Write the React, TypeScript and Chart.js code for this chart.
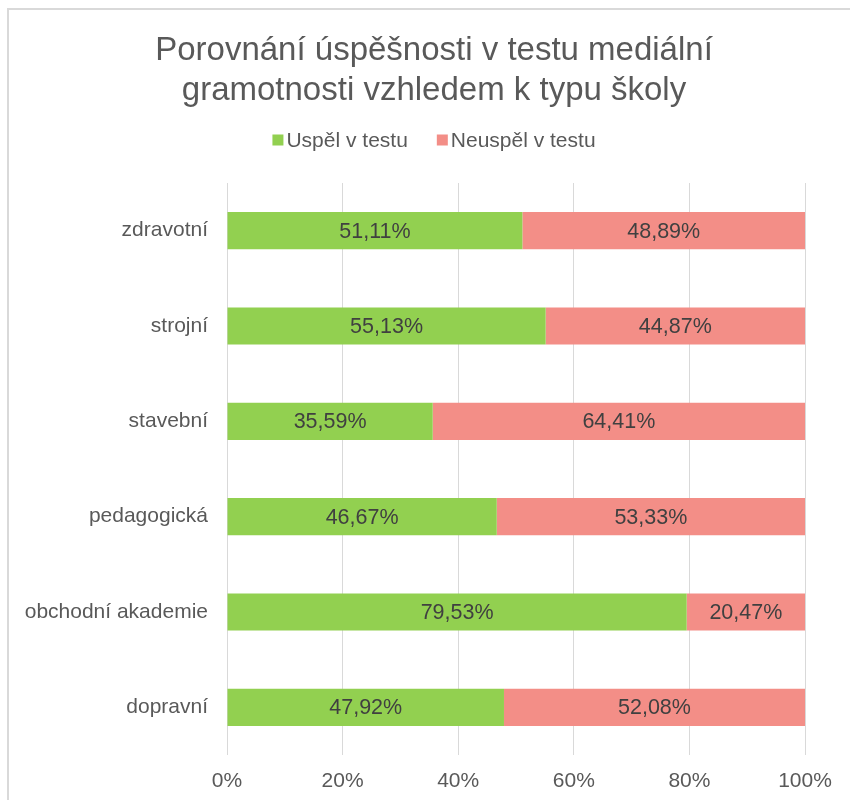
import React, { useEffect, useRef } from "react";
import { Chart, registerables } from "chart.js";

Chart.register(...registerables);

const titleLines = ["Porovnání úspěšnosti v testu mediální", "gramotnosti vzhledem k typu školy"];
const categories = ["zdravotní", "strojní", "stavební", "pedagogická", "obchodní akademie", "dopravní"];
const seriesNames = ["Uspěl v testu", "Neuspěl v testu"];
const passed = [51.11, 55.13, 35.59, 46.67, 79.53, 47.92];
const failed = [48.89, 44.87, 64.41, 53.33, 20.47, 52.08];
const xTicks = [0, 20, 40, 60, 80, 100];

const FONT = "'Liberation Sans', Arial, sans-serif";
const GREEN = "#92D050";
const RED = "#F38E87";

const fmt = (v: number) => v.toFixed(2).replace(".", ",") + "%";

const dataLabelPlugin = {
  id: "dataLabels",
  afterDatasetsDraw(chart: any) {
    const ctx = chart.ctx;
    ctx.save();
    ctx.font = `21.5px ${FONT}`;
    ctx.fillStyle = "#404040";
    ctx.textAlign = "center";
    ctx.textBaseline = "middle";
    chart.data.datasets.forEach((ds: any, di: number) => {
      const meta = chart.getDatasetMeta(di);
      meta.data.forEach((el: any, i: number) => {
        const p = el.getCenterPoint();
        ctx.fillText(fmt(ds.data[i]), p.x, p.y + 1);
      });
    });
    ctx.restore();
  },
};

const legendPlugin = {
  id: "customLegend",
  afterDraw(chart: any) {
    const ctx = chart.ctx;
    ctx.save();
    ctx.font = `21px ${FONT}`;
    ctx.textBaseline = "middle";
    const box = 11;
    const gap = 3;
    const spacing = 29;
    const items = chart.data.datasets.map((ds: any) => ({
      text: ds.label,
      color: ds.backgroundColor,
      w: ctx.measureText(ds.label).width,
    }));
    let total = 0;
    items.forEach((it: any, i: number) => {
      total += box + gap + it.w + (i > 0 ? spacing : 0);
    });
    const tb = chart.titleBlock;
    const cx = (tb.left + tb.right) / 2;
    const y = 140;
    let x = cx - total / 2;
    items.forEach((it: any) => {
      ctx.fillStyle = it.color;
      ctx.fillRect(x, y - box / 2, box, box);
      x += box + gap;
      ctx.fillStyle = "#595959";
      ctx.textAlign = "left";
      ctx.fillText(it.text, x, y + 1);
      x += it.w + spacing;
    });
    ctx.restore();
  },
};

export default function App() {
  const ref = useRef<HTMLCanvasElement | null>(null);

  useEffect(() => {
    if (!ref.current) return;
    const chart = new Chart(ref.current, {
      type: "bar",
      data: {
        labels: categories,
        datasets: [
          {
            label: seriesNames[0],
            data: passed,
            backgroundColor: GREEN,
            borderWidth: 0,
            categoryPercentage: 1,
            barPercentage: 0.39,
          },
          {
            label: seriesNames[1],
            data: failed,
            backgroundColor: RED,
            borderWidth: 0,
            categoryPercentage: 1,
            barPercentage: 0.39,
          },
        ],
      },
      plugins: [dataLabelPlugin, legendPlugin],
      options: {
        indexAxis: "y",
        responsive: false,
        animation: false,
        devicePixelRatio: 1,
        layout: { padding: { top: 10, left: 18, right: 0, bottom: 0 } },
        plugins: {
          legend: { display: false },
          tooltip: { enabled: false },
          title: {
            display: true,
            text: titleLines,
            color: "#595959",
            font: { family: FONT, size: 33, weight: "normal", lineHeight: 40 / 33 },
            padding: { top: 21, bottom: 72 },
          },
        },
        scales: {
          x: {
            stacked: true,
            min: 0,
            max: 100,
            afterBuildTicks: (s: any) => {
              s.ticks = xTicks.map((v) => ({ value: v }));
            },
            afterFit: (s: any) => {
              s.height = 45;
            },
            grid: { color: "#D9D9D9", lineWidth: 1, drawTicks: false },
            border: { display: false },
            ticks: {
              padding: 14,
              color: "#595959",
              font: { family: FONT, size: 21 },
              callback: (v: any) => v + "%",
            },
          },
          y: {
            stacked: true,
            afterFit: (s: any) => {
              s.width = 209;
            },
            grid: { display: false, drawTicks: false },
            border: { display: false },
            ticks: {
              padding: 19,
              color: "#595959",
              font: { family: FONT, size: 21 },
            },
          },
          y2: {
            type: "linear",
            position: "right",
            display: true,
            afterFit: (s: any) => {
              s.width = 45;
            },
            grid: { display: false, drawTicks: false },
            border: { display: false },
            ticks: { display: false },
          },
        },
      } as any,
    });
    return () => chart.destroy();
  }, []);

  return (
    <div
      style={{
        position: "absolute",
        left: 0,
        top: 0,
        width: 850,
        height: 800,
        overflow: "hidden",
        background: "#fff",
      }}
    >
      <div
        style={{
          position: "absolute",
          left: 7,
          top: 8,
          width: 1000,
          height: 1000,
          border: "2px solid #D9D9D9",
          boxSizing: "border-box",
        }}
      />
      <canvas
        ref={ref}
        width={850}
        height={800}
        style={{ position: "absolute", left: 0, top: 0, width: 850, height: 800 }}
      />
    </div>
  );
}
